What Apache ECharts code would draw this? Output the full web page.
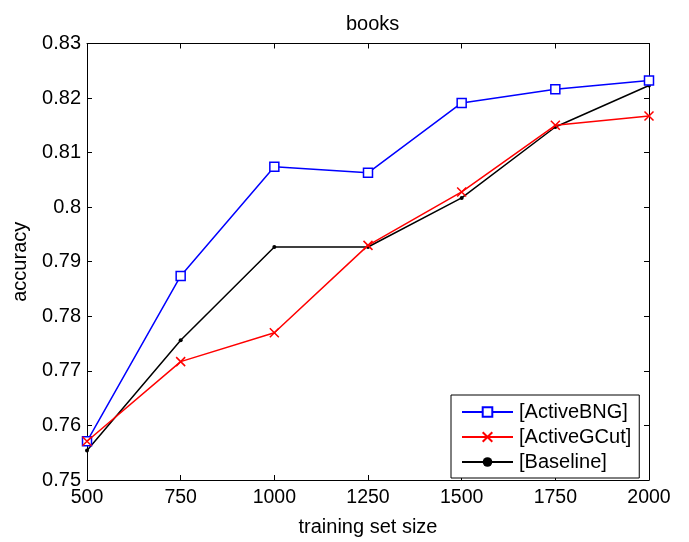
<!DOCTYPE html>
<html>
<head>
<meta charset="utf-8">
<script src="https://cdn.jsdelivr.net/npm/echarts@6/dist/echarts.min.js"></script>
<style>html,body{margin:0;padding:0;background:#fff;}#c{width:689px;height:542px;}</style>
</head>
<body>
<div id="c"></div>
<script>
var sizes = [500, 750, 1000, 1250, 1500, 1750, 2000];
var activeBNG = [0.7571, 0.7874, 0.8074, 0.8063, 0.8191, 0.8216, 0.8232];
var activeGCut = [0.7571, 0.7717, 0.7770, 0.7930, 0.8028, 0.8150, 0.8167];
var baseline = [0.7554, 0.7756, 0.7927, 0.7927, 0.8017, 0.8147, 0.8223];
var seriesNames = ['[ActiveBNG]', '[ActiveGCut]', '[Baseline]'];

function pairs(vals) { return sizes.map(function (s, i) { return [s, vals[i]]; }); }

var font = 'Liberation Sans, Arial, sans-serif';
var chart = echarts.init(document.getElementById('c'));
var axisCommon = {
  axisLine: { show: true, onZero: false, lineStyle: { color: '#000', width: 1 } },
  axisTick: { show: true, inside: true, length: 5, lineStyle: { color: '#000' } },
  splitLine: { show: false }
};
chart.setOption({
  animation: false,
  backgroundColor: '#fff',
  title: {
    text: 'books', left: 341, top: 9,
    textStyle: { fontFamily: font, fontSize: 20, fontWeight: 'normal', color: '#000' }
  },
  grid: { left: 87, right: 40, top: 43.5, bottom: 56, containLabel: false },
  legend: {
    data: seriesNames,
    orient: 'vertical',
    left: 451, top: 395,
    width: 189,
    padding: [7, 8, 6, 10],
    itemWidth: 51, itemHeight: 12, itemGap: 5,
    borderColor: '#000', borderWidth: 1,
    backgroundColor: '#fff',
    textStyle: { fontFamily: font, fontSize: 20, color: '#000', lineHeight: 20, padding: [0, 0, 0, 1] }
  },
  xAxis: [
    Object.assign({}, axisCommon, {
      type: 'value', min: 500, max: 2000, interval: 250,
      name: 'training set size', nameLocation: 'middle', nameGap: 37,
      nameTextStyle: { fontFamily: font, fontSize: 20, color: '#000' },
      axisLabel: { fontFamily: font, fontSize: 19.5, color: '#000', margin: 8,
        formatter: function (v) { return String(v); } }
    }),
    Object.assign({}, axisCommon, {
      type: 'value', min: 500, max: 2000, interval: 250, position: 'top',
      axisLabel: { show: false }
    })
  ],
  yAxis: [
    Object.assign({}, axisCommon, {
      type: 'value', min: 0.75, max: 0.83, interval: 0.01,
      name: 'accuracy', nameLocation: 'middle', nameGap: 57,
      nameTextStyle: { fontFamily: font, fontSize: 20, color: '#000' },
      axisLabel: { fontFamily: font, fontSize: 20, color: '#000', margin: 6,
        formatter: function (v) { return String(parseFloat(v.toFixed(2))); } }
    }),
    Object.assign({}, axisCommon, {
      type: 'value', min: 0.75, max: 0.83, interval: 0.01, position: 'right',
      axisLabel: { show: false }
    })
  ],
  series: [
    {
      name: seriesNames[0], type: 'line', data: pairs(activeBNG),
      symbol: 'rect', symbolSize: 9, showAllSymbol: true,
      lineStyle: { color: '#0000ff', width: 1.5 },
      itemStyle: { color: '#ffffff', borderColor: '#0000ff', borderWidth: 1.5 },
      emphasis: { disabled: true }, z: 3
    },
    {
      name: seriesNames[1], type: 'line', data: pairs(activeGCut),
      symbol: 'path://M0,0L10,10M10,0L0,10', symbolSize: 9,
      lineStyle: { color: '#ff0000', width: 1.5 },
      itemStyle: { color: 'rgba(0,0,0,0)', borderColor: '#ff0000', borderWidth: 1.5 },
      emphasis: { disabled: true }, z: 4
    },
    {
      name: seriesNames[2], type: 'line', data: pairs(baseline),
      symbol: 'circle', symbolSize: 4,
      lineStyle: { color: '#000000', width: 1.5 },
      itemStyle: { color: '#000000', borderWidth: 0 },
      emphasis: { disabled: true }, z: 2
    }
  ]
});
</script>
</body>
</html>
